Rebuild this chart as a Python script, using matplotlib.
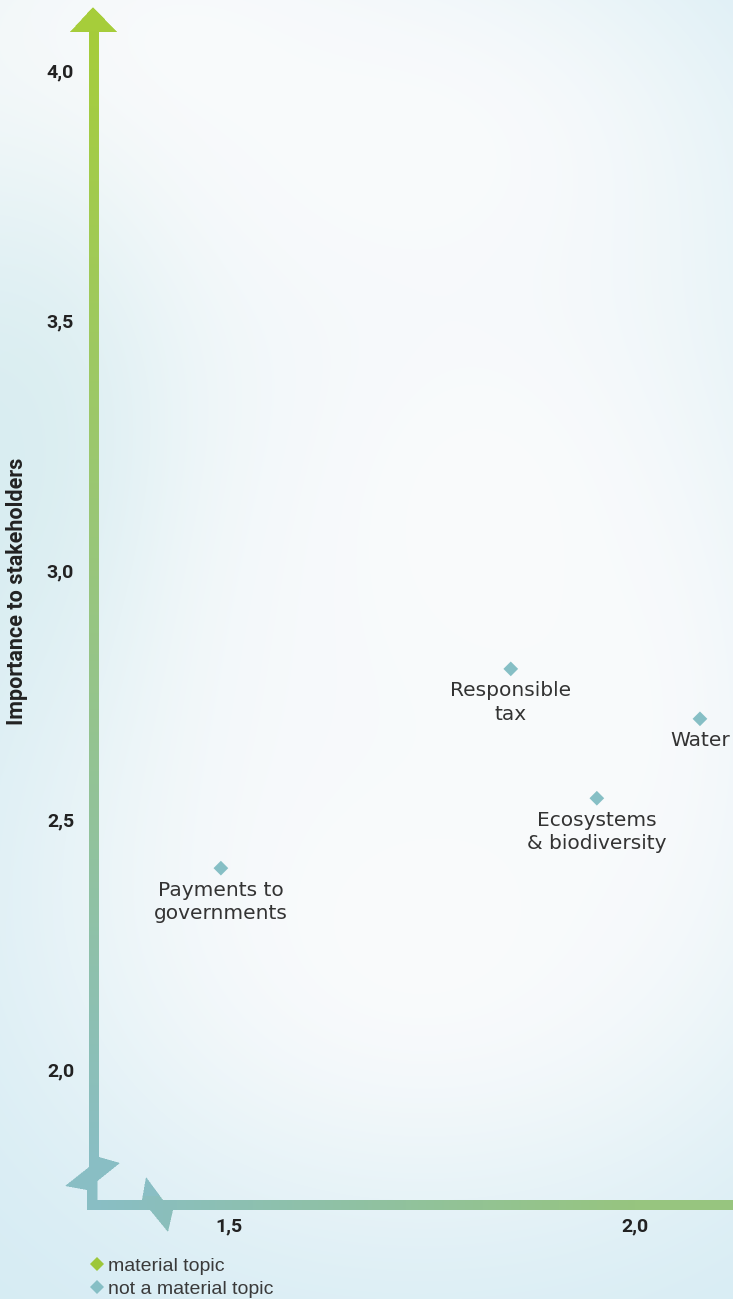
import numpy as np
import matplotlib
matplotlib.use("Agg")
import matplotlib.pyplot as plt
import matplotlib.transforms as mtransforms
from matplotlib.path import Path
from matplotlib.lines import Line2D

# ---------------- data ----------------
topics = ["Payments to\ngovernments", "Responsible\ntax",
          "Ecosystems\n& biodiversity", "Water"]
business_impact = [1.490, 1.847, 1.953, 2.080]
stakeholder_importance = [2.407, 2.806, 2.547, 2.706]
is_material = [False, False, False, False]

x_ticks = [1.5, 2.0]
x_tick_labels = ["1,5", "2,0"]
y_ticks = [2.0, 2.5, 3.0, 3.5, 4.0]
y_tick_labels = ["2,0", "2,5", "3,0", "3,5", "4,0"]
y_title = "Importance to stakeholders"
legend_labels = ["material topic", "not a material topic"]

# ---------------- style ----------------
W, H = 733, 1299
GREEN = "#9dc73a"
TEAL = "#86bfc5"
TXT = "#222222"
LBL = "#333333"

fig = plt.figure(figsize=(W / 100, H / 100), dpi=100)
ax = fig.add_axes([0, 0, 1, 1])
ax.patch.set_alpha(0)
ax.axis("off")

# ---- soft cloudy background ----
yy, xx = np.mgrid[0:H, 0:W].astype(float)
base = np.array([212, 235, 243], float)
white = np.array([250, 251, 252], float)
blobs = [(130, 60, 260, 170, 1.0), (420, 150, 220, 150, 0.9),
         (480, 520, 230, 300, 1.0), (420, 930, 260, 210, 1.0),
         (250, 640, 150, 260, 0.55), (620, 720, 120, 200, 0.8)]
keep = np.ones((H, W))
for cx, cy, sx, sy, a in blobs:
    g = np.exp(-(((xx - cx) / sx) ** 2 + ((yy - cy) / sy) ** 2) / 2)
    keep *= 1 - a * g
w = 1 - keep
bg = base[None, None, :] * (1 - w[..., None]) + white[None, None, :] * w[..., None]
# slight cyan-green tint on the left band
cy_t = np.exp(-(((xx - 40) / 90) ** 2 + ((yy - 420) / 220) ** 2) / 2)[..., None]
bg = bg * (1 - 0.35 * cy_t) + np.array([205, 232, 232], float) * 0.35 * cy_t
fig.figimage(bg.astype(np.uint8), xo=0, yo=0, origin="upper", zorder=-10)

# ---- axis arrows with breaks (decoration, pixel geometry) ----
shape = [(93, 7), (117, 32), (99, 32), (99, 1157), (120, 1163), (97.5, 1181),
         (97.5, 1200), (142, 1200), (146, 1177), (163, 1200), (733, 1200),
         (733, 1210), (173, 1210), (168, 1232), (150, 1210), (87, 1210),
         (87, 1190), (65, 1186), (89, 1167), (89, 32), (70, 32)]
path = Path(shape + [shape[0]], closed=True)
ss = 2
sy_, sx_ = np.mgrid[0:H * ss, 0:W * ss]
pts = np.column_stack([(sx_.ravel() + 0.5) / ss, (sy_.ravel() + 0.5) / ss])
inside = path.contains_points(pts).reshape(H * ss, W * ss).astype(float)
mask = inside.reshape(H, ss, W, ss).mean(axis=(1, 3))
c_teal = np.array([137, 190, 196], float)
c_top = np.array([166, 205, 58], float)
c_right = np.array([151, 197, 127], float)
tv = np.clip((1160 - yy) / 1130, 0, 1)[..., None]
th = np.clip((xx - 100) / 535, 0, 1)[..., None]
colv = c_teal + tv * (c_top - c_teal)
colh = c_teal + th * (c_right - c_teal)
col = np.where((yy < 1196)[..., None], colv, colh)
rgba = np.concatenate([col / 255, mask[..., None]], axis=2)
fig.figimage(rgba, xo=0, yo=0, origin="upper", zorder=-5)

# ---- scales ----
ax.set_xlim(1.21798, 2.12069)
ax.set_ylim(1.54425, 4.14538)

# ---- tick labels ----
ty = mtransforms.blended_transform_factory(ax.transAxes, ax.transData)
for v, s in zip(y_ticks, y_tick_labels):
    ax.text(74 / W, v, s, transform=ty, ha="right", va="center",
            fontsize=14, fontweight="bold", family="Roboto", color=TXT)
tx = mtransforms.blended_transform_factory(ax.transData, ax.transAxes)
for v, s in zip(x_ticks, x_tick_labels):
    ax.text(v, 1 - 1226 / H, s, transform=tx, ha="center", va="center",
            fontsize=14, fontweight="bold", family="Roboto", color=TXT)

fig.text(17 / W, 1 - 591 / H, y_title, rotation=90, ha="center", va="center",
         fontsize=15.5, fontweight="bold", family="Roboto", color=TXT)

# ---- points ----
cols = [GREEN if m else TEAL for m in is_material]
ax.scatter(business_impact, stakeholder_importance, marker="D", s=7.5 ** 2,
           c=cols, linewidths=0, zorder=5)
for x, y, t in zip(business_impact, stakeholder_importance, topics):
    ax.annotate(t, (x, y), xytext=(0, -9), textcoords="offset points",
                ha="center", va="top", multialignment="center",
                fontsize=14.5, color=LBL, family="DejaVu Sans", linespacing=1.3)

# ---- legend ----
handles = [Line2D([], [], marker="D", ls="none", ms=7.5, color=GREEN, mew=0),
           Line2D([], [], marker="D", ls="none", ms=7.5, color=TEAL, mew=0)]
leg = ax.legend(handles, legend_labels, loc="lower left",
                bbox_to_anchor=(90 / W, 1 / H), frameon=False,
                prop={"family": "Liberation Sans", "size": 14},
                handlelength=0.7, handletextpad=0.25, labelspacing=0.3,
                borderpad=0, borderaxespad=0)
for t in leg.get_texts():
    t.set_color("#3a3a3a")

fig.savefig("out.png", dpi=100)
